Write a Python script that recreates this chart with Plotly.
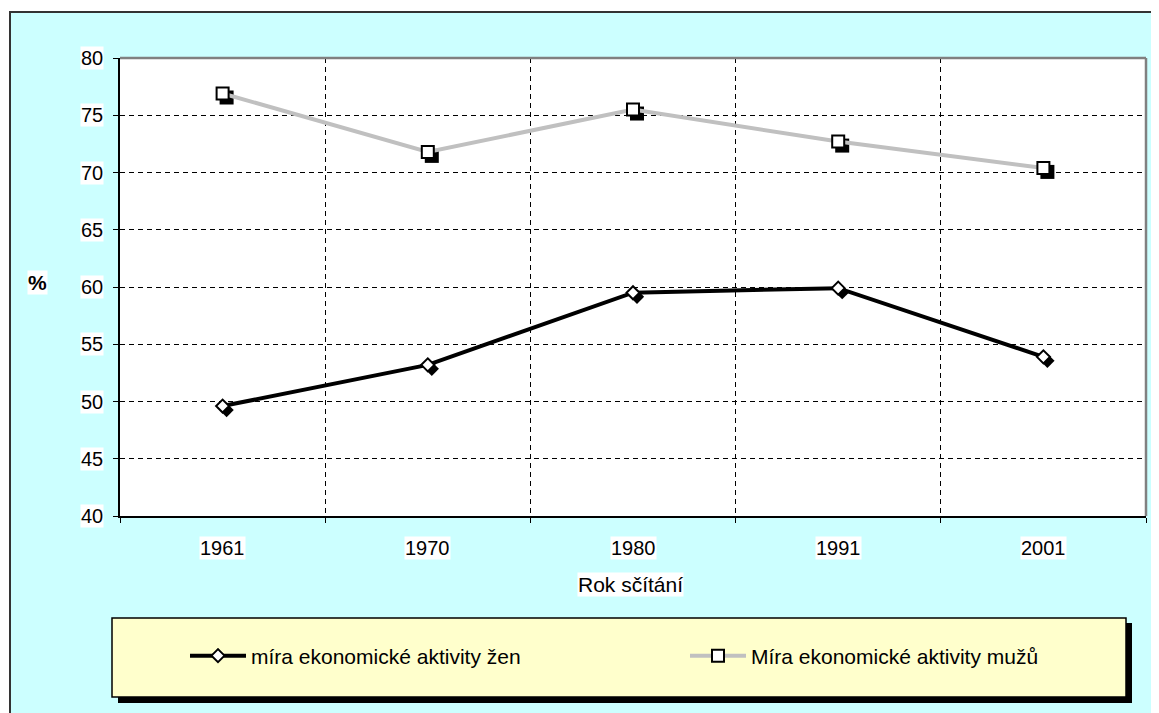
import plotly.graph_objects as go

# ---- data ----
years = ["1961", "1970", "1980", "1991", "2001"]
women = [49.6, 53.2, 59.5, 59.9, 53.9]
men = [76.9, 71.8, 75.5, 72.7, 70.4]
y_ticks = [40, 45, 50, 55, 60, 65, 70, 75, 80]
women_name = "míra ekonomické aktivity žen"
men_name = "Míra ekonomické aktivity mužů"
x_title = "Rok sčítání"
y_title = "%"

# ---- geometry (page pixel coordinates of the reference, page has an 8px body margin) ----
OFF = 8
W, H = 1159 - OFF, 713 - OFF
L, R, T, B = 120 - OFF, 13, 58 - OFF, 197
pw, ph = W - L - R, H - T - B
FONT = "Liberation Sans, Arial, sans-serif"
FS = 20


def px(x):
    return (x - OFF - L) / pw


def py(y):
    return (H - B - (y - OFF)) / ph


xidx = list(range(len(years)))
x_range = [-0.5, len(years) - 0.5]
y_range = [y_ticks[0], y_ticks[-1]]
x_bounds = [i - 0.5 for i in range(len(years) + 1)]

# shadow offset (pixels) realised by shifting the shadow axes' ranges
SX, SY = 4, 4
ux = pw / (x_range[1] - x_range[0])
uy = ph / (y_range[1] - y_range[0])
xs_range = [x_range[0] - SX / ux, x_range[1] - SX / ux]
ys_range = [y_range[0] + SY / uy, y_range[1] + SY / uy]

fig = go.Figure()
# shadows
fig.add_trace(go.Scatter(x=xidx, y=women, mode="markers", xaxis="x", yaxis="y",
                         marker=dict(symbol="diamond", size=11, color="black",
                                     line=dict(width=0)),
                         showlegend=False, hoverinfo="skip"))
fig.add_trace(go.Scatter(x=xidx, y=men, mode="markers", xaxis="x", yaxis="y",
                         marker=dict(symbol="square", size=14, color="black",
                                     line=dict(width=0)),
                         showlegend=False, hoverinfo="skip"))
# main series
fig.add_trace(go.Scatter(x=xidx, y=women, mode="lines+markers", name=women_name,
                         xaxis="x2", yaxis="y2", legend="legend",
                         line=dict(color="black", width=4),
                         marker=dict(symbol="diamond", size=10, color="white",
                                     line=dict(color="black", width=2))))
fig.add_trace(go.Scatter(x=xidx, y=men, mode="lines+markers", name=men_name,
                         xaxis="x2", yaxis="y2", legend="legend2",
                         line=dict(color="#C0C0C0", width=4),
                         marker=dict(symbol="square", size=12, color="white",
                                     line=dict(color="black", width=2))))

axis_common = dict(showticklabels=False, ticks="outside", ticklen=5,
                   tickcolor="black", tickwidth=1, showline=True,
                   linecolor="black", linewidth=1.5, showgrid=True,
                   gridcolor="black", gridwidth=1, griddash="5px,4px",
                   zeroline=False, fixedrange=True)

shapes = [
    dict(type="rect", xref="paper", yref="paper", x0=px(10), x1=px(1180),
         y0=py(740), y1=py(12), fillcolor="#CCFFFF",
         line=dict(color="#333333", width=2), layer="below"),
    dict(type="rect", xref="paper", yref="paper", x0=0, x1=1, y0=0, y1=1,
         fillcolor="white", line=dict(width=0), layer="below"),
    dict(type="rect", xref="paper", yref="paper", x0=px(118), x1=px(1132),
         y0=py(703), y1=py(623), fillcolor="black", line=dict(width=0),
         layer="below"),
    dict(type="rect", xref="paper", yref="paper", x0=px(112), x1=px(1126),
         y0=py(697), y1=py(618), fillcolor="#FFFFCC",
         line=dict(color="black", width=1.5), layer="below"),
    dict(type="line", xref="paper", yref="paper", x0=0, x1=1, y0=1, y1=1,
         line=dict(color="#808080", width=2.5), layer="above"),
    dict(type="line", xref="paper", yref="paper", x0=1, x1=1, y0=0, y1=1,
         line=dict(color="#808080", width=2.5), layer="above"),
]

annotations = []
for v in y_ticks:
    annotations.append(dict(xref="paper", yref="y2", x=px(104), y=v,
                            text=str(v), showarrow=False, xanchor="right",
                            yanchor="middle", bgcolor="white", borderpad=0,
                            font=dict(family=FONT, size=FS, color="black")))
for i, lab in enumerate(years):
    annotations.append(dict(xref="x2", yref="paper", x=i, y=py(548),
                            text=lab, showarrow=False, xanchor="center",
                            yanchor="middle", bgcolor="white", borderpad=0,
                            font=dict(family=FONT, size=FS, color="black")))
annotations.append(dict(xref="paper", yref="paper", x=px(630), y=py(584),
                        text=x_title, showarrow=False, xanchor="center",
                        yanchor="middle", bgcolor="white", borderpad=0,
                        font=dict(family=FONT, size=FS + 1, color="black")))
annotations.append(dict(xref="paper", yref="paper", x=px(37), y=py(282),
                        text="<b>" + y_title + "</b>", showarrow=False,
                        xanchor="center", yanchor="middle", bgcolor="white",
                        borderpad=0,
                        font=dict(family=FONT, size=FS + 1, color="black")))

leg_common = dict(orientation="v", xanchor="left", yanchor="middle",
                  bgcolor="rgba(0,0,0,0)", borderwidth=0, itemwidth=56,
                  font=dict(family=FONT, size=21, color="black"))

fig.update_layout(
    width=W, height=H,
    margin=dict(l=L, r=R, t=T, b=B, pad=0),
    paper_bgcolor="white", plot_bgcolor="rgba(0,0,0,0)",
    font=dict(family=FONT, size=FS, color="black"),
    xaxis=dict(range=xs_range, visible=False, domain=[0, 1], fixedrange=True),
    yaxis=dict(range=ys_range, visible=False, domain=[0, 1], fixedrange=True),
    xaxis2=dict(overlaying="x", anchor="y2", side="bottom", range=x_range,
                tickvals=x_bounds, **axis_common),
    yaxis2=dict(overlaying="y", anchor="x2", side="left", range=y_range,
                tickvals=y_ticks, **axis_common),
    shapes=shapes, annotations=annotations,
    showlegend=True,
    legend=dict(x=px(185), y=py(656), **leg_common),
    legend2=dict(x=px(685), y=py(656), **leg_common),
)

fig.write_html("out.html")
